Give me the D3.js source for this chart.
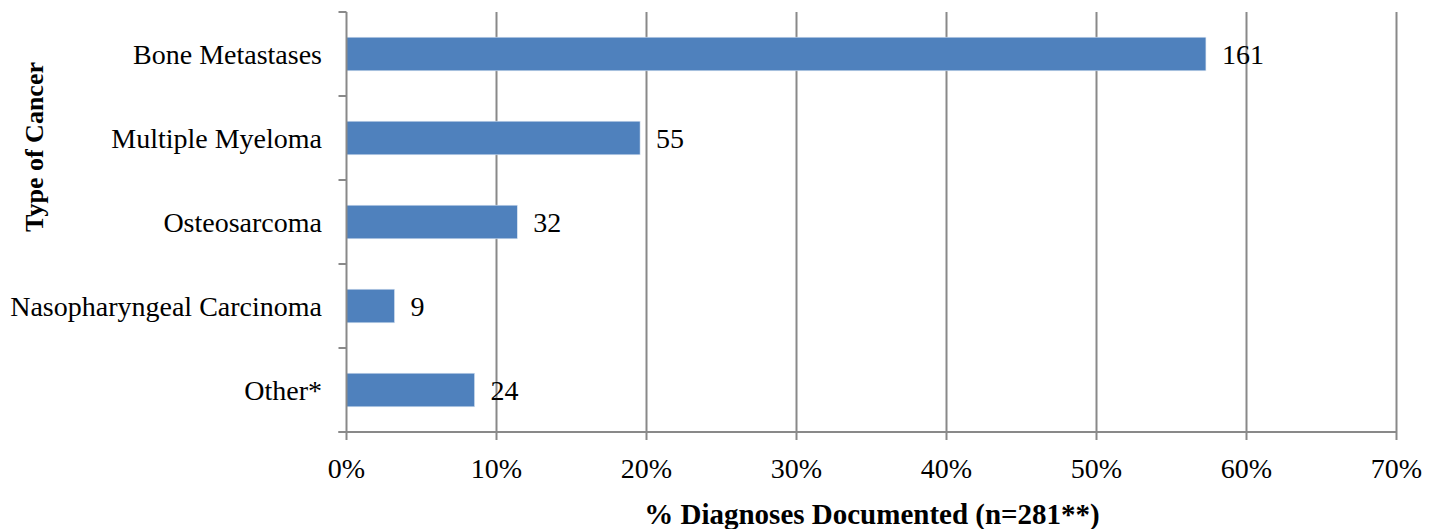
<!DOCTYPE html>
<html><head><meta charset="utf-8">
<script src="https://cdn.jsdelivr.net/npm/d3@7"></script>
<style>body{margin:0;background:#fff}svg{display:block}text{font-family:"Liberation Serif","DejaVu Serif",serif;fill:#000}</style>
</head><body>
<svg id="c" width="1440" height="529"></svg>
<script>
const categories = ["Bone Metastases","Multiple Myeloma","Osteosarcoma","Nasopharyngeal Carcinoma","Other*"];
const counts = [161, 55, 32, 9, 24];
const total = 281;
const xTicks = [0,10,20,30,40,50,60,70];

const svg = d3.select("#c");
const m = {l:346.5, r:1396.5, t:12, b:432};
const x = d3.scaleLinear().domain([0,70]).range([m.l, m.r]);
const y = d3.scaleBand().domain(categories).range([m.t, m.b]).paddingInner(0.6).paddingOuter(0.3);
const grid = "#898989";
const fs = 28;

// gridlines
svg.append("g").selectAll("line").data(xTicks.slice(1)).join("line")
  .attr("x1", d=>x(d)).attr("x2", d=>x(d)).attr("y1", m.t).attr("y2", m.b+8)
  .attr("stroke", grid).attr("stroke-width", 2);

// bars
svg.append("g").selectAll("rect").data(categories).join("rect")
  .attr("x", x(0)).attr("y", d=>y(d))
  .attr("width", (d,i)=>x(counts[i]/total*100)-x(0))
  .attr("height", y.bandwidth())
  .attr("fill", "#4F81BD").attr("stroke","#DCE6F2").attr("stroke-width",0.6);

// value labels
svg.append("g").selectAll("text").data(categories).join("text")
  .attr("x", (d,i)=>x(counts[i]/total*100)+16)
  .attr("y", d=>y(d)+y.bandwidth()/2).attr("dy","0.35em")
  .attr("font-size", fs).text((d,i)=>counts[i]);

// y axis
const yAxisG = svg.append("g");
yAxisG.append("line").attr("x1", m.l).attr("x2", m.l).attr("y1", m.t).attr("y2", m.b+8)
  .attr("stroke", grid).attr("stroke-width", 2);
const step = (m.b - m.t)/categories.length;
yAxisG.selectAll("line.t").data(d3.range(categories.length+1)).join("line").attr("class","t")
  .attr("x1", m.l-8).attr("x2", m.l).attr("y1", i=>m.t+i*step).attr("y2", i=>m.t+i*step)
  .attr("stroke", grid).attr("stroke-width", 2);
yAxisG.selectAll("text").data(categories).join("text")
  .attr("x", 322).attr("y", d=>y(d)+y.bandwidth()/2).attr("dy","0.35em")
  .attr("text-anchor","end").attr("font-size", fs).text(d=>d);

// x axis
const xAxisG = svg.append("g");
xAxisG.append("line").attr("x1", m.l-8).attr("x2", m.r).attr("y1", m.b).attr("y2", m.b)
  .attr("stroke", grid).attr("stroke-width", 2);
xAxisG.selectAll("text").data(xTicks).join("text")
  .attr("x", d=>x(d)).attr("y", 478).attr("text-anchor","middle")
  .attr("font-size", fs).text(d=>d+"%");

// titles
svg.append("text").attr("x", 872).attr("y", 524).attr("text-anchor","middle")
  .attr("font-size", 29).attr("font-weight","bold").text("% Diagnoses Documented (n=281**)");
svg.append("text").attr("transform","translate(43,147) rotate(-90)").attr("text-anchor","middle")
  .attr("font-size", 26).attr("font-weight","bold").text("Type of Cancer");
</script>
</body></html>
